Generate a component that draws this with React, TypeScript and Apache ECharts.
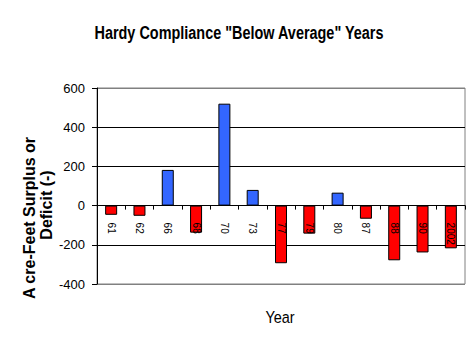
import React, { useEffect, useRef } from "react";
import * as echarts from "echarts";

const years = ["61", "62", "66", "68", "70", "73", "77", "79", "80", "87", "88", "90", "2002"];
const surplus = [-47, -52, 182, -138, 520, 80, -294, -143, 66, -67, -279, -239, -218];
const yTicks = { min: -400, max: 600, interval: 200 };

const BLUE = "#3366FF";
const RED = "#FF0000";
const SANS = "'Liberation Sans', Arial, sans-serif";

const GRID_TOP = 88;
const GRID_BOTTOM = 72;
const PLOT_H = 356 - GRID_TOP - GRID_BOTTOM;
const zeroOffset = -PLOT_H * ((0 - yTicks.min) / (yTicks.max - yTicks.min));

export default function App() {
  const ref = useRef<HTMLDivElement>(null);
  useEffect(() => {
    if (!ref.current) return;
    const chart = echarts.init(ref.current, null, { renderer: "svg" });
    chart.setOption({
      animation: false,
      backgroundColor: "#ffffff",
      grid: {
        left: 97,
        right: 11,
        top: GRID_TOP,
        bottom: GRID_BOTTOM,
        show: true,
        borderColor: "#808080",
        borderWidth: 1,
        backgroundColor: "transparent",
      },
      graphic: [
        {
          type: "text",
          x: 239,
          y: 33,
          scaleX: 0.76,
          style: {
            text: 'Hardy Compliance "Below Average" Years',
            font: `bold 19px ${SANS}`,
            fill: "#000",
            align: "center",
            verticalAlign: "middle",
          },
        },
        {
          type: "text",
          x: 29,
          y: 218,
          rotation: Math.PI / 2,
          style: {
            text: "A cre-Feet Surplus or",
            font: `bold 16px ${SANS}`,
            fill: "#000",
            align: "center",
            verticalAlign: "middle",
          },
        },
        {
          type: "text",
          x: 46,
          y: 205,
          rotation: Math.PI / 2,
          style: {
            text: "Deficit (-)",
            font: `bold 16px ${SANS}`,
            fill: "#000",
            align: "center",
            verticalAlign: "middle",
          },
        },
        {
          type: "text",
          x: 280,
          y: 317,
          scaleX: 0.85,
          style: {
            text: "Year",
            font: `17px ${SANS}`,
            fill: "#000",
            align: "center",
            verticalAlign: "middle",
          },
        },
      ],
      xAxis: {
        type: "category",
        data: years,
        z: 10,
        offset: zeroOffset,
        axisLine: { onZero: false, lineStyle: { color: "#000", width: 1 } },
        axisTick: { show: true, inside: false, length: 4, alignWithLabel: false, lineStyle: { color: "#000" } },
        axisLabel: {
          rotate: -90,
          margin: 17,
          fontSize: 10,
          fontFamily: SANS,
          color: "#000",
          interval: 0,
        },
        splitLine: { show: false },
      },
      yAxis: {
        type: "value",
        min: yTicks.min,
        max: yTicks.max,
        interval: yTicks.interval,
        axisLine: { show: true, lineStyle: { color: "#000", width: 1 } },
        axisTick: { show: true, length: 5, lineStyle: { color: "#000" } },
        axisLabel: { fontSize: 13, fontFamily: SANS, color: "#000", margin: 12 },
        splitLine: {
          show: true,
          lineStyle: { color: ["#808080", "#000", "#000", "#000", "#000", "#808080"], width: 1 },
        },
      },
      series: [
        {
          type: "bar",
          barWidth: 12,
          data: surplus.map((v) => ({
            value: v,
            itemStyle: { color: v >= 0 ? BLUE : RED, borderColor: "#000", borderWidth: 1 },
          })),
        },
      ],
    });
    return () => chart.dispose();
  }, []);
  return (
    <div
      ref={ref}
      style={{ position: "fixed", left: 0, top: 0, width: 476, height: 356 }}
    />
  );
}
